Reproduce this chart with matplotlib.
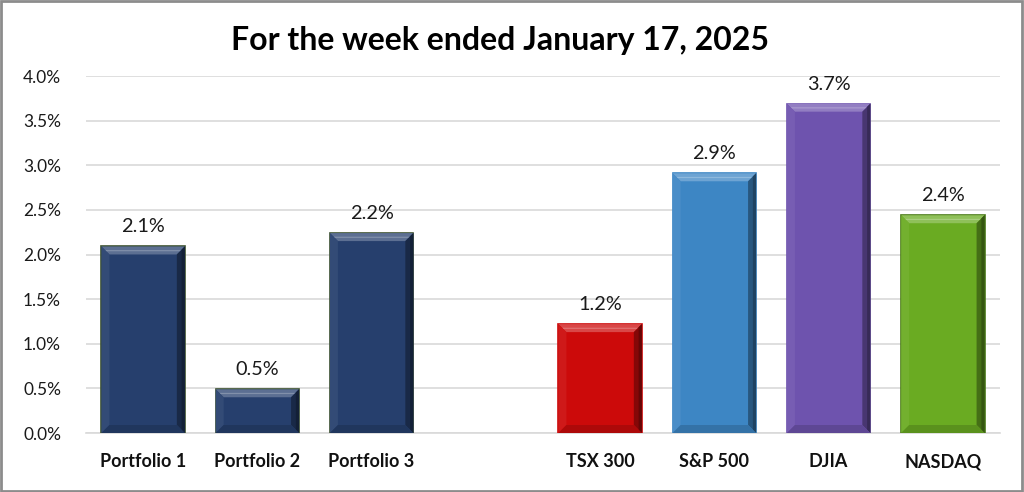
import matplotlib
matplotlib.use("Agg")
import matplotlib.pyplot as plt
import numpy as np
from matplotlib.patches import Polygon, Rectangle
from matplotlib.colors import to_rgb

categories = ["Portfolio 1", "Portfolio 2", "Portfolio 3", "", "TSX 300", "S&P 500", "DJIA", "NASDAQ"]
values = [2.09, 0.49, 2.24, np.nan, 1.22, 2.91, 3.69, 2.44]
labels = ["2.1%", "0.5%", "2.2%", "", "1.2%", "2.9%", "3.7%", "2.4%"]
colors = ["#263F6D", "#263F6D", "#263F6D", "#FFFFFF", "#CC0A0A", "#3D86C4", "#6E53AE", "#6AAB22"]
edges = ["#3E5330", "#3E5330", "#3E5330", "#FFFFFF", "#CC0A0A", "#3D86C4", "#6E53AE", "#4A7A18"]
title = "For the week ended January 17, 2025"
yticks = [0, 0.5, 1.0, 1.5, 2.0, 2.5, 3.0, 3.5, 4.0]

plt.rcParams['font.family'] = ['Lato', 'DejaVu Sans']

fig = plt.figure(figsize=(10.24, 4.92), dpi=100)
ax = fig.add_axes([86/1024, 59/492, 914/1024, 357/492])

x = np.arange(len(categories))
ax.set_xlim(-0.5, len(categories) - 0.5)
ax.set_ylim(0, 4.0)

def mix(c, t, f):
    c = np.array(to_rgb(c)); t = np.array(to_rgb(t))
    return tuple(c + (t - c) * f)

# bevel size in data units (~8 px)
bx = 8 / (914 / len(categories))
by = 8 / (357 / 4.0)

w = 0.73
for xi, v, c, e in zip(x, values, colors, edges):
    if np.isnan(v):
        continue
    b = ax.bar(xi, v, width=w, color=c, edgecolor=e, linewidth=1.2, zorder=3)[0]
    x0, x1 = b.get_x(), b.get_x() + b.get_width()
    y0, y1 = 0, v
    dy = min(by, v / 3)
    # top bevel (lighter)
    ax.add_patch(Polygon([(x0, y1), (x1, y1), (x1 - bx, y1 - dy), (x0 + bx, y1 - dy)],
                         closed=True, facecolor=mix(c, "white", 0.25), edgecolor='none', zorder=4))
    ax.add_patch(Polygon([(x0 + bx*0.5, y1 - dy*0.45), (x1 - bx*0.5, y1 - dy*0.45), (x1 - bx*0.6, y1 - dy*0.6), (x0 + bx*0.6, y1 - dy*0.6)],
                         closed=True, facecolor=mix(c, "white", 0.42), edgecolor='none', zorder=4))
    # right bevel (dark)
    ax.add_patch(Polygon([(x1, y1), (x1, y0), (x1 - bx, y0 + dy), (x1 - bx, y1 - dy)],
                         closed=True, facecolor=mix(c, "black", 0.35), edgecolor='none', zorder=4))
    ax.add_patch(Polygon([(x1, y1), (x1, y0), (x1 - bx*0.4, y0 + dy*0.4), (x1 - bx*0.4, y1 - dy*0.4)],
                         closed=True, facecolor=mix(c, "black", 0.5), edgecolor='none', zorder=4))
    # left bevel (slightly lighter)
    ax.add_patch(Polygon([(x0, y1), (x0, y0), (x0 + bx, y0 + dy), (x0 + bx, y1 - dy)],
                         closed=True, facecolor=mix(c, "white", 0.06), edgecolor='none', zorder=4))
    # bottom bevel (slightly darker)
    ax.add_patch(Polygon([(x0, y0), (x1, y0), (x1 - bx, y0 + dy), (x0 + bx, y0 + dy)],
                         closed=True, facecolor=mix(c, "black", 0.15), edgecolor='none', zorder=4))

for xi, v, lab in zip(x, values, labels):
    if np.isnan(v):
        continue
    ax.annotate(lab, (xi, v), xytext=(0, 8), textcoords='offset points',
                ha='center', va='bottom', fontsize=14.3, color='#1a1a1a', annotation_clip=False)

ax.set_yticks(yticks)
ax.set_yticklabels([f"{t:.1f}%" for t in yticks], fontsize=12.4, color='#1a1a1a')
ax.set_xticks(x)
ax.set_xticklabels(categories, fontsize=13, fontweight='bold', color='#111111')
ax.tick_params(axis='both', length=0)
ax.tick_params(axis='y', pad=18)
ax.tick_params(axis='x', pad=14.5)
ax.grid(axis='y', color='#D9D9D9', linewidth=1.2, zorder=0)
ax.set_axisbelow(True)
for s in ['top', 'right', 'left']:
    ax.spines[s].set_visible(False)
ax.spines['bottom'].set_color('#D9D9D9')
ax.spines['bottom'].set_linewidth(1.2)

fig.text(0.488, 0.918, title, ha='center', va='center', fontsize=23, fontweight='bold', color='#000000')

fig.patches.append(Rectangle((0.001, 0.002), 0.997, 0.995, transform=fig.transFigure,
                             fill=False, edgecolor='#8C8C8C', linewidth=2))

fig.savefig("out.png", dpi=100)
